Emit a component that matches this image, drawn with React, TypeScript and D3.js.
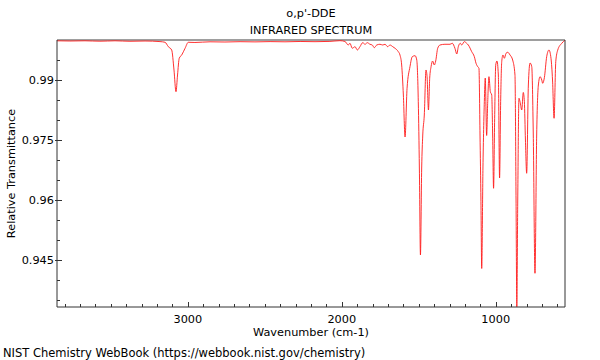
import React from 'react';
import * as d3 from 'd3';

const wavenumber = [3850,3766,3668,3571,3473,3376,3278,3181,3148,3127,3105,3090,3077,3067,3056,3040,3018,2997,2954,2856,2759,2661,2564,2466,2369,2271,2174,2077,2012,1979,1958,1947,1932,1914,1899,1882,1864,1849,1834,1817,1802,1789,1773,1752,1734,1719,1702,1687,1669,1654,1633,1622,1611,1600,1589,1576,1557,1542,1524,1513,1503,1496,1489,1481,1474,1464,1453,1446,1437,1429,1420,1410,1399,1390,1377,1362,1330,1297,1282,1265,1253,1243,1230,1221,1204,1189,1178,1156,1139,1128,1117,1109,1102,1096,1091,1083,1074,1068,1059,1052,1044,1035,1026,1020,1014,1007,1000,992,983,975,968,961,953,944,933,922,907,890,875,868,863,857,849,842,831,821,814,807,799,788,777,766,756,745,734,723,712,701,695,684,669,654,641,631,621,610,597,571,550];

const transmittance = [0.9998,0.99975,0.9998,0.9997,0.9998,0.99968,0.99975,0.9996,0.99943,0.99833,0.9975,0.9925,0.98708,0.99125,0.99543,0.99625,0.99793,0.99943,0.99938,0.99955,0.9995,0.99958,0.99953,0.9996,0.99955,0.99963,0.99958,0.99965,0.99983,0.99963,0.99875,0.99918,0.99793,0.99833,0.9975,0.99833,0.99933,0.99893,0.99933,0.99893,0.99875,0.99808,0.99875,0.99893,0.99875,0.99893,0.99833,0.99875,0.99833,0.99793,0.99708,0.99625,0.99375,0.98625,0.97575,0.98793,0.99333,0.99583,0.99608,0.995,0.98458,0.968,0.94625,0.968,0.97625,0.98125,0.9925,0.99083,0.9825,0.99043,0.99333,0.99475,0.99375,0.99475,0.99793,0.99875,0.99893,0.99893,0.99918,0.99793,0.9965,0.99833,0.99918,0.99875,0.99958,0.99918,0.99875,0.99708,0.99583,0.99418,0.99333,0.99293,0.97625,0.95958,0.94288,0.968,0.98458,0.9905,0.97613,0.98458,0.99083,0.98708,0.98625,0.97625,0.96293,0.98043,0.99375,0.99475,0.99125,0.9655,0.98458,0.99458,0.99625,0.99543,0.99668,0.99693,0.99625,0.995,0.99125,0.96,0.9333,0.96,0.98543,0.98458,0.9825,0.98688,0.98458,0.975,0.96668,0.98875,0.99425,0.99333,0.97625,0.94168,0.97625,0.98875,0.99083,0.99,0.98918,0.99058,0.99583,0.9975,0.99543,0.99,0.98043,0.99458,0.9975,0.99918,0.99993];

const xMajorTicks = [3000, 2000, 1000];
const yMajorTicks = [0.99, 0.975, 0.96, 0.945];
const yTickLabels = ['0.99', '0.975', '0.96', '0.945'];
const titleText = "o,p'-DDE";
const subtitleText = 'INFRARED SPECTRUM';
const xLabel = 'Wavenumber (cm-1)';
const yLabel = 'Relative Transmittance';
const footer = 'NIST Chemistry WebBook (https://webbook.nist.gov/chemistry)';

export default function App() {
  const W = 600, H = 360;
  const L = 57, R = 565, T = 40, B = 307;
  const x = d3.scaleLinear().domain([3850, 550]).range([L, R]);
  const y = d3.scaleLinear().domain([0.93325, 1.0]).range([B, T]);
  const pts: [number, number][] = wavenumber.map((w, i) => [w, transmittance[i]]);
  const line = d3.line<[number, number]>()
    .x(d => x(d[0]))
    .y(d => y(d[1]))
    .curve(d3.curveMonotoneX);
  const xMinor = d3.range(6, 39).map(i => i * 100);
  const yMinor = d3.range(187, 200).map(i => i * 0.005);
  const font = "'DejaVu Sans', sans-serif";
  const fs = 11.3;
  const axisColor = '#333';
  return (
    <div style={{ position: 'fixed', left: 0, top: 0 }}>
      <svg width={W} height={H} style={{ display: 'block', background: '#fff' }} fontFamily={font}>
        <defs>
          <clipPath id="plotclip">
            <rect x={L} y={T - 1} width={R - L} height={B - T + 1} />
          </clipPath>
        </defs>
        <text x={(L + R) / 2} y={17} textAnchor="middle" fontSize={fs}>{titleText}</text>
        <text x={(L + R) / 2} y={33.5} textAnchor="middle" fontSize={fs}>{subtitleText}</text>
        <line x1={L} x2={R} y1={T} y2={T} stroke="#9e9e9e" strokeWidth={2.2} />
        <path d={line(pts) || ''} fill="none" stroke="#ff1a1a" strokeWidth={0.9} clipPath="url(#plotclip)" />
        <line x1={L} x2={L} y1={T} y2={B} stroke={axisColor} strokeWidth={1} />
        <line x1={R} x2={R} y1={T} y2={B} stroke={axisColor} strokeWidth={1} />
        <line x1={L} x2={R} y1={B} y2={B} stroke={axisColor} strokeWidth={1} />
        {xMinor.map(v => {
          const major = xMajorTicks.includes(v);
          const px = Math.round(x(v)) + 0.5;
          return <line key={'xm' + v} x1={px} x2={px} y1={B} y2={B - (major ? 5 : 3)} stroke={axisColor} strokeWidth={1} />;
        })}
        {xMajorTicks.map(v => (
          <text key={'xl' + v} x={x(v)} y={323} textAnchor="middle" fontSize={fs}>{v}</text>
        ))}
        {yMinor.map((v, i) => {
          const major = yMajorTicks.some(t => Math.abs(t - v) < 1e-6);
          const py = Math.round(y(v)) + 0.5;
          return <line key={'ym' + i} x1={major ? L - 2 : L} x2={L + (major ? 5 : 3)} y1={py} y2={py} stroke={axisColor} strokeWidth={1} />;
        })}
        {yMajorTicks.map((v, i) => (
          <text key={'yl' + v} x={L - 3} y={y(v)} dy="0.35em" textAnchor="end" fontSize={fs}>{yTickLabels[i]}</text>
        ))}
        <text x={(L + R) / 2} y={336} textAnchor="middle" fontSize={fs}>{xLabel}</text>
        <text transform={`translate(14.5, ${(T + B) / 2}) rotate(-90)`} textAnchor="middle" fontSize={fs}>{yLabel}</text>
        <text x={3} y={357} fontSize={11.5}>{footer}</text>
      </svg>
    </div>
  );
}
